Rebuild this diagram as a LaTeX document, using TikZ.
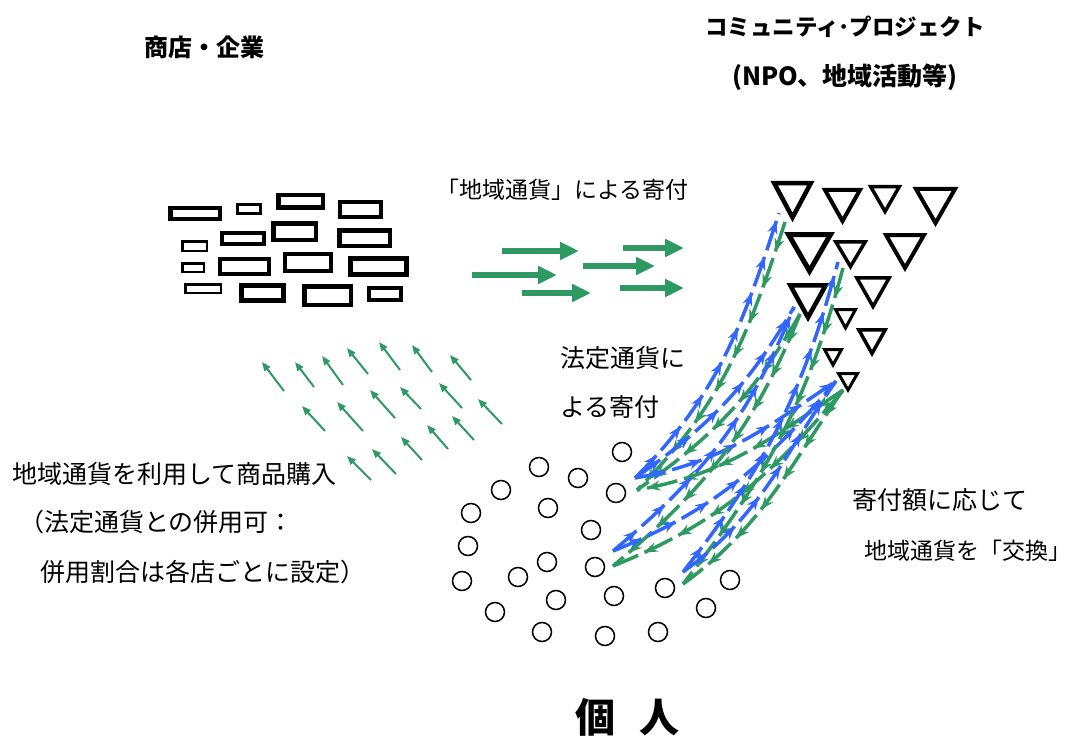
\documentclass[tikz,border=0pt]{standalone}
\usepackage{fontspec}
\newfontfamily\jpfont{Noto Sans CJK JP}
\usetikzlibrary{arrows.meta,decorations.markings}
\definecolor{chaingreen}{RGB}{46,153,98}
\definecolor{chainblue}{RGB}{51,102,255}
\tikzset{
  txt/.style={inner sep=0pt,anchor=west,font=\jpfont\fontsize{25}{29}\selectfont},
  bigtxt/.style={inner sep=0pt,font=\jpfont\bfseries\fontsize{22.5}{26}\selectfont},
  shop/.style={draw,line width=3pt},
  person/.style={circle,draw,line width=1.5pt,minimum size=19pt,inner sep=0pt},
  drop/.style={draw,line width=3.5pt,miter limit=20},
  flow/.style={chaingreen,line width=5.5pt,-{Triangle[length=19pt,width=17pt]}},
  buy/.style={chaingreen,line width=2pt,-{Triangle[length=9pt,width=7pt]}},
  arrowchain/.style={line width=3.5pt,dash pattern=on 31pt off 7pt,
    postaction={decorate,decoration={markings,
      mark=between positions 31pt and 1 step 38pt with {\arrow{Stealth[length=13pt,width=10pt]}}}}},
  give/.style={arrowchain,chainblue},
  back/.style={arrowchain,chaingreen},
}

\begin{document}
\begin{tikzpicture}[x=1pt,y=1pt]
  \useasboundingbox (0,0) rectangle (1073,-738);

  % titles and labels
  \node[bigtxt,font=\jpfont\bfseries\fontsize{24}{28}\selectfont] (shops) at (204,-47) {商店・企業};
  \node[bigtxt] (community) at (845,-27) {コミュニティ･プロジェクト};
  \node[bigtxt,font=\jpfont\bfseries\fontsize{25}{29}\selectfont] (npo) at (845,-77) {(NPO、地域活動等)};
  \node[txt,font=\jpfont\fontsize{23}{27}\selectfont] (localgift) at (436,-190) {「地域通貨」による寄付};
  \node[txt] (legal1) at (560,-358) {法定通貨に};
  \node[txt] (legal2) at (560,-407) {よる寄付};
  \node[txt] (purchase) at (12,-474) {地域通貨を利用して商品購入};
  \node[txt] (mix1) at (19,-522) {（法定通貨との併用可：};
  \node[txt] (mix2) at (40,-572) {併用割合は各店ごとに設定）};
  \node[txt] (rate1) at (852,-500) {寄付額に応じて};
  \node[txt,font=\jpfont\fontsize{23}{27}\selectfont] (rate2) at (864,-551) {地域通貨を「交換」};
  \node[inner sep=0pt,font=\jpfont\bfseries\fontsize{40}{44}\selectfont] (persons) at (627,-717) {個\hspace{24pt}人};

  % shops
  \foreach \a/\b/\c/\d/\w in {168/206/222/221/4.5, 236/203/262/215/3, 276/193/325/210/4.5,
      338/200/383/219/4, 220/231/266/246/4, 271/221/318/242/4.5, 337/228/392/248/4.5,
      181/240/208/252/2.5, 181/262/205/273/2.5, 218/257/271/276/4, 283/252/333/273/4,
      348/256/409/277/5, 184/283/222/294/2.5, 239/283/286/303/5, 302/284/353/307/4.5,
      367/286/403/302/4}
    \draw[shop,line width=\w pt] ({\a+\w/2},{-\b-\w/2}) rectangle ({\c-\w/2},{-\d+\w/2});

  % projects
  \foreach \a/\b/\c/\d/\w in {772/813/181/222/4.5, 823/862/188/225/4, 869/901/185/215/3.5,
      914/957/187/227/4, 786/833/232/276/5, 834/867/240/270/3.5, 884/926/233/272/4,
      788/828/283/322/4.5, 855/891/276/310/3.5, 834/857/308/331/3, 857/887/328/357/3.5,
      823/843/348/368/3, 837/859/372/393/3}
    \draw[drop,line width=\w pt] ({\a+\w/2},{-\c-\w/2}) -- ({\b-\w/2},{-\c-\w/2})
      -- ({(\a+\b)/2},{-\d+\w}) -- cycle;

  % persons
  \foreach \x/\y [count=\i] in {622/452, 539/467, 578/478, 501/490, 616/493, 471/513,
      548/508, 591/530, 468/546, 547/562, 595/567, 462/581, 518/577, 665/588, 730/580,
      556/600, 614/596, 495/612, 706/608, 542/632, 605/636, 658/632}
    \node[person] (c\i) at (\x,-\y) {};

  % local currency donations
  \foreach \a/\b/\y [count=\i] in {502/579/251, 623/684/248, 472/557/275, 583/655/266,
      522/591/293, 620/684/288} {
    \coordinate (fs\i) at (\a,-\y);
    \coordinate (fe\i) at (\b,-\y);
    \draw[flow] (fs\i) -- (fe\i);
  }

  % purchases
  \foreach \a/\b/\c/\d [count=\i] in {284/391/262/362, 314/387/295/362, 343/385/322/356,
      368/374/347/348, 400/370/379/342, 432/372/412/345, 471/380/450/355,
      325/431/302/406, 363/431/337/402, 395/418/370/390, 421/409/400/387,
      462/408/439/383, 502/424/478/399, 474/440/452/416, 448/449/427/425,
      422/460/401/437, 396/474/372/449, 371/480/347/456} {
    \coordinate (bs\i) at (\a,-\b);
    \coordinate (be\i) at (\c,-\d);
    \draw[buy] (bs\i) -- (be\i);
  }

  % exchange chains
  \coordinate (s1) at (635,-478);
  \coordinate (s2) at (613,-551);
  \coordinate (s3) at (683,-572);
  \coordinate (sg1) at (637,-490);
  \coordinate (sg2) at (613,-566);
  \coordinate (sg3) at (683,-584);
  \coordinate (t1) at (779,-213);
  \coordinate (t2) at (794,-307);
  \coordinate (t3) at (838,-262);
  \coordinate (t4) at (836,-381);
  \coordinate (tg1) at (785,-222);
  \coordinate (tg2) at (800,-314);
  \coordinate (tg3) at (843,-268);
  \coordinate (tg4) at (843,-390);
  \foreach \s/\t/\o/\n in {1/1/45/-108, 1/2/35/-120, 1/4/10/-146, 2/2/40/-112,
      2/4/22/-130, 3/3/52/-105, 3/4/36/-125} {
    \draw[give] (s\s) to[out=\o,in=\n] (t\t);
    \draw[back] (tg\t) to[out=\n,in=\o] (sg\s);
  }
\end{tikzpicture}
\end{document}
